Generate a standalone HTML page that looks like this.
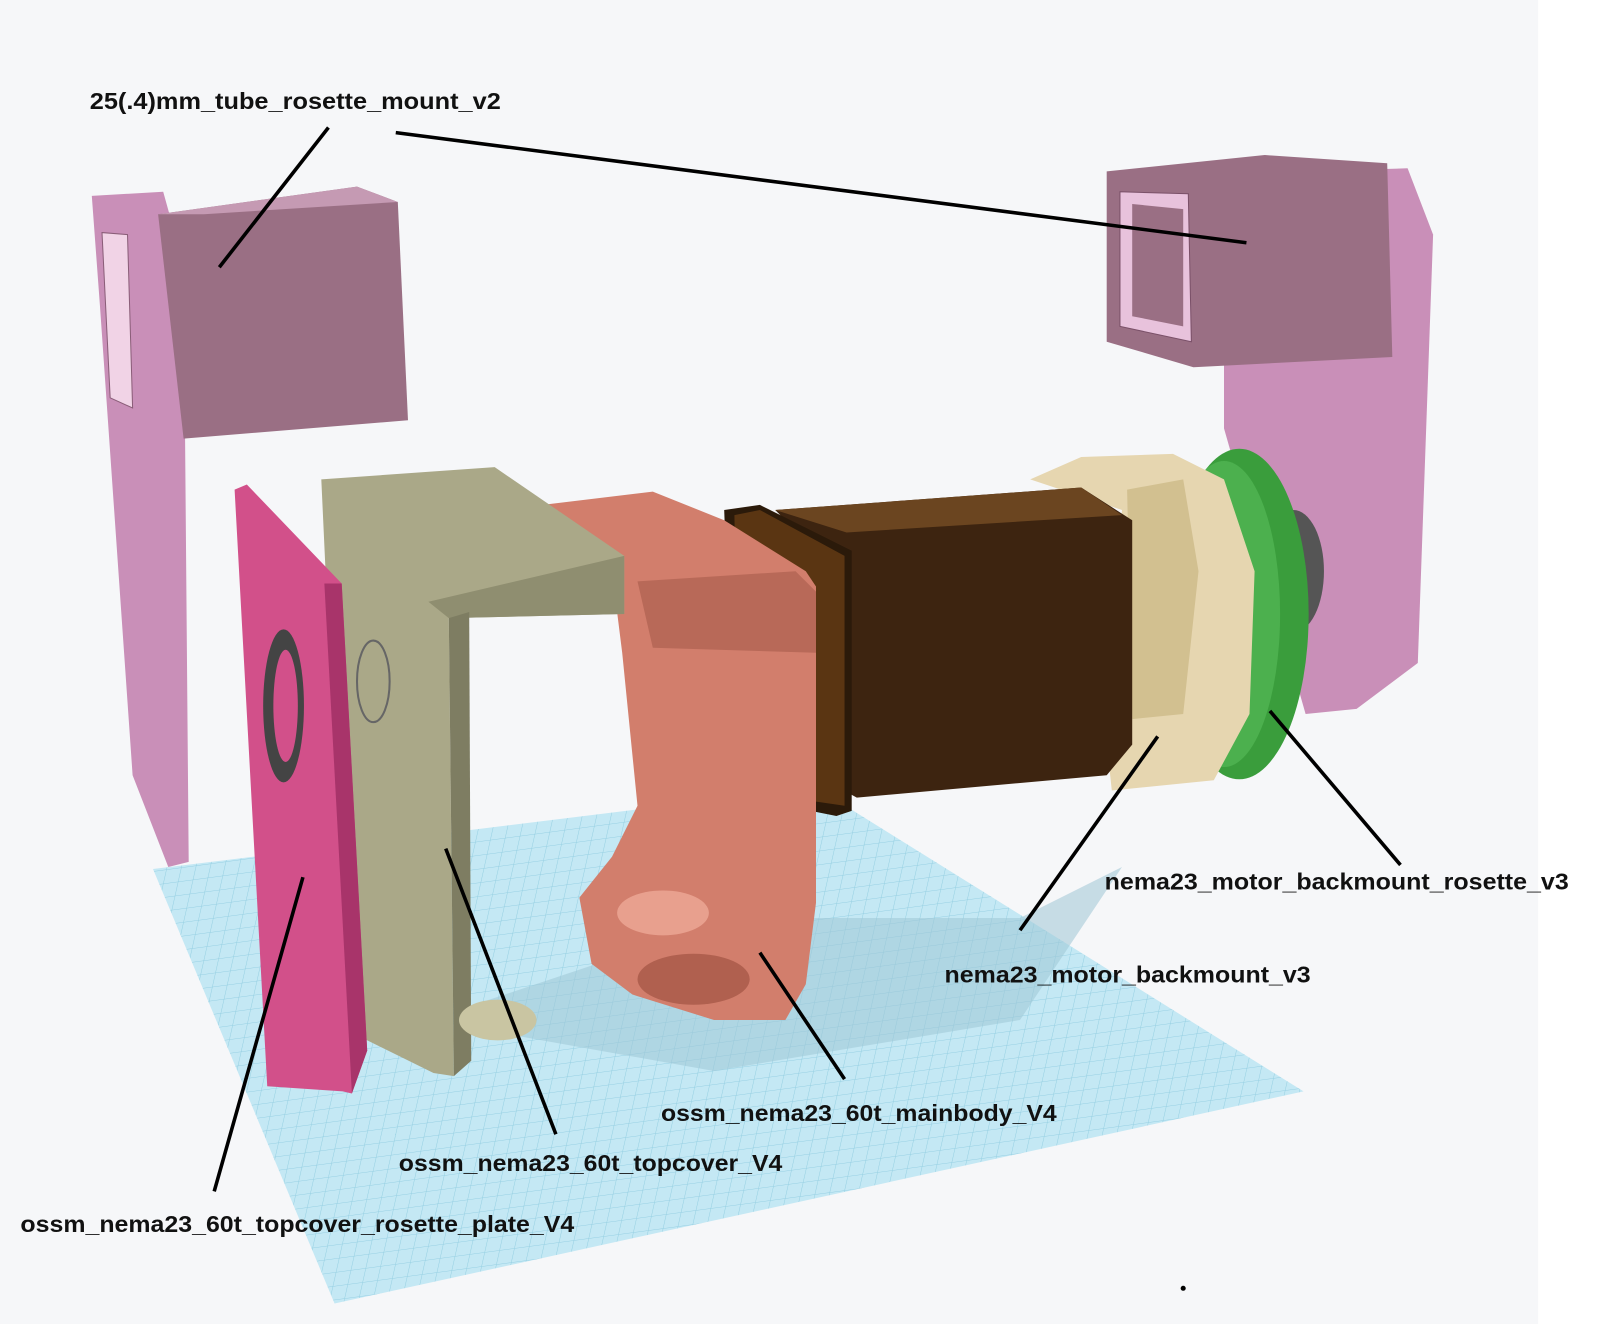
<!DOCTYPE html>
<html>
<head>
<meta charset="utf-8">
<style>
html,body{margin:0;padding:0;background:#fff;}
svg{display:block;}
text{font-family:"Liberation Sans",sans-serif;font-weight:bold;font-size:23px;fill:#111;}
</style>
</head>
<body>
<svg width="1598" height="1324" viewBox="0 0 1598 1324" xmlns="http://www.w3.org/2000/svg">
<defs>
<pattern id="grid" width="14" height="14" patternUnits="userSpaceOnUse" patternTransform="skewX(-20) rotate(-8)">
<rect width="14" height="14" fill="#c4e8f4"/>
<path d="M14 0H0V14" fill="none" stroke="#95cfe2" stroke-width="1"/>
</pattern>
</defs>
<g transform="scale(1.02)">
<rect x="0" y="0" width="1508" height="1300" fill="#f6f7f9"/>

<polygon points="150,852 800,772 1278,1070 328,1278" fill="url(#grid)"/>
<polygon points="420,1000 720,900 1000,900 1100,850 1000,1000 700,1050" fill="#9fc7d6" opacity="0.55"/>

<g>
<polygon points="90,192 160,188 180,260 185,845 165,850 130,760 98,300" fill="#c98fb8"/>
<polygon points="100,228 125,230 130,400 108,390" fill="#f1d3e6" stroke="#8a5d78"/>
<polygon points="155,210 350,183 390,198 400,412 180,430" fill="#9a6f84"/>
<polygon points="155,210 350,183 390,198 200,210" fill="#c59ab3"/>
</g>

<g>
<polygon points="1200,170 1380,165 1405,230 1390,650 1330,695 1280,700 1200,420" fill="#c98fb8"/>
<polygon points="1085,168 1240,152 1360,160 1365,350 1170,360 1085,335" fill="#9a6f84"/>
<polygon points="1098,188 1165,190 1168,335 1098,320" fill="#e8c2dc" stroke="#7a5068"/>
<polygon points="1110,200 1160,205 1160,320 1110,310" fill="#9a6f84"/>
</g>

<g>
<ellipse cx="1268" cy="560" rx="30" ry="60" fill="#555"/>
<ellipse cx="1215" cy="602" rx="68" ry="162" fill="#3a9d3c"/>
<ellipse cx="1200" cy="602" rx="55" ry="150" fill="#4cb04e"/>
</g>

<g>
<polygon points="1010,470 1060,448 1150,445 1200,470 1230,560 1225,700 1190,765 1090,775 1082,700 1100,500" fill="#e6d6b0"/>
<polygon points="1105,480 1160,470 1175,560 1160,700 1110,705" fill="#d2c090"/>
</g>

<g>
<polygon points="760,500 1060,478 1110,510 1110,730 1085,760 840,782 800,760 780,520" fill="#3d2410"/>
<polygon points="760,500 1060,478 1100,505 830,522" fill="#6b4520"/>
<polygon points="710,500 745,495 835,540 835,795 820,800 720,780" fill="#2b1a0a"/>
<polygon points="720,505 745,500 828,545 828,790 725,775" fill="#5a3512"/>
</g>

<g>
<polygon points="532,495 640,482 710,510 790,560 800,575 800,885 790,965 770,1000 700,1000 620,975 580,945 568,880 600,840 625,790 610,640 600,560 540,520" fill="#d27e6c"/>
<polygon points="625,570 780,560 800,580 800,640 640,635" fill="#b86958"/>
<ellipse cx="680" cy="960" rx="55" ry="25" fill="#b0604f"/>
<ellipse cx="650" cy="895" rx="45" ry="22" fill="#e8a08e"/>
</g>

<g>
<polygon points="315,470 485,458 612,545 612,602 440,606 445,1055 425,1052 340,1010" fill="#aaa888"/>
<polygon points="420,590 612,545 612,602 440,606" fill="#8f8e70"/>
<polygon points="440,606 460,600 462,1040 445,1055" fill="#7e7d62"/>
<ellipse cx="366" cy="668" rx="16" ry="40" fill="none" stroke="#666" stroke-width="2"/>
<ellipse cx="488" cy="1000" rx="38" ry="20" fill="#c9c5a2"/>
</g>

<g>
<polygon points="230,480 242,475 335,572 360,1030 345,1072 336,1070 262,1065" fill="#d2508a"/>
<polygon points="318,572 335,572 360,1030 345,1072" fill="#a8346a"/>
<ellipse cx="278" cy="692" rx="20" ry="75" fill="#444"/>
<ellipse cx="280" cy="692" rx="12" ry="55" fill="#d2508a"/>
</g>

<g stroke="#000" stroke-width="3.5" fill="none">
<line x1="322" y1="125" x2="215" y2="262"/>
<line x1="388" y1="130" x2="1222" y2="238"/>
<line x1="1373" y1="848" x2="1245" y2="697"/>
<line x1="1000" y1="912" x2="1135" y2="722"/>
<line x1="828" y1="1058" x2="745" y2="934"/>
<line x1="545" y1="1112" x2="437" y2="832"/>
<line x1="210" y1="1168" x2="297" y2="860"/>
</g>

<text x="88" y="107" textLength="403" lengthAdjust="spacingAndGlyphs">25(.4)mm_tube_rosette_mount_v2</text>
<text x="1083" y="872" textLength="455" lengthAdjust="spacingAndGlyphs">nema23_motor_backmount_rosette_v3</text>
<text x="926" y="963" textLength="359" lengthAdjust="spacingAndGlyphs">nema23_motor_backmount_v3</text>
<text x="648" y="1099" textLength="388" lengthAdjust="spacingAndGlyphs">ossm_nema23_60t_mainbody_V4</text>
<text x="391" y="1148" textLength="376" lengthAdjust="spacingAndGlyphs">ossm_nema23_60t_topcover_V4</text>
<text x="20" y="1208" textLength="543" lengthAdjust="spacingAndGlyphs">ossm_nema23_60t_topcover_rosette_plate_V4</text>
<circle cx="1160" cy="1263" r="2.5" fill="#000"/>
</g>
</svg>
</body>
</html>
